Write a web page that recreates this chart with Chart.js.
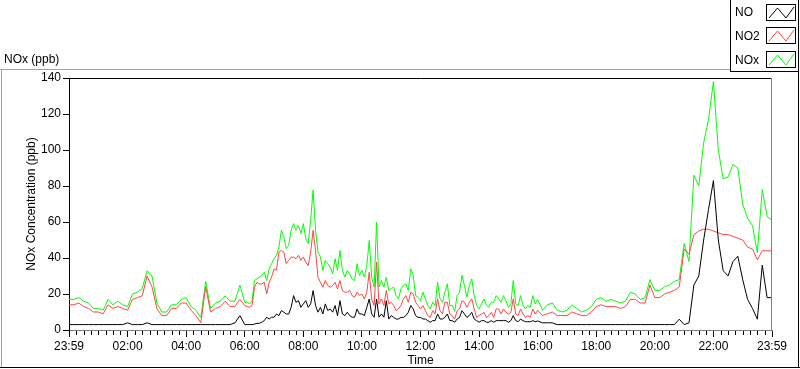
<!DOCTYPE html>
<html>
<head>
<meta charset="utf-8">
<script src="https://cdn.jsdelivr.net/npm/chart.js@4.4.1/dist/chart.umd.min.js"></script>
<style>
html,body{margin:0;padding:0;background:#fff;overflow:hidden}
#wrap{position:relative;width:800px;height:369px}
</style>
</head>
<body>
<div id="wrap"><canvas id="c" width="800" height="369"></canvas></div>
<script>
// ---- data ----
// sampling: [start minute, end minute, step minutes] since 23:59 (start of day axis)
const samplingSegments = [[0,360,10],[360,960,5],[960,1440,10]];
const xTickLabels = ["23:59","02:00","04:00","06:00","08:00","10:00","12:00","14:00","16:00","18:00","20:00","22:00","23:59"];
const seriesNames = ["NO","NO2","NOx"];
const seriesColors = ["#000000","#ff4545","#00ff00"];

const noValues = [
 // 00:00-05:50 (10 min)
 3,3,3,3,3,3,3,3,3,3,3,3,4,3,3,3,4,3,3,3,3,3,3,3,3,3,3,3,3,3,3,3,3,3,4,8,
 // 06:00-15:55 (5 min)
 3.0,3.0,3.0,3.0,3.3,3.7,3.7,4.3,5.2,7.1,
 6.1,7.1,7.1,8.9,8.0,10.8,9.9,8.9,8.9,12.6,
 19.1,15.4,16.3,12.6,14.5,16.3,12.6,14.5,21.9,13.6,
 9.9,12.6,8.9,14.5,10.8,11.7,9.9,13.6,8.0,16.3,
 8.9,8.0,9.9,8.0,7.1,7.1,11.7,8.9,8.9,8.0,
 12.6,17.2,8.9,7.1,17.2,7.1,8.9,7.1,16.3,6.1,
 8.0,7.0,6.1,6.1,7.0,7.0,8.0,9.8,13.6,11.7,
 8.0,7.0,7.0,6.1,6.1,5.2,4.3,5.2,5.2,8.9,
 6.1,6.1,7.0,8.9,5.2,5.2,4.3,6.1,7.0,10.7,
 8.9,7.0,8.0,9.8,6.1,5.2,4.3,5.2,5.2,4.3,
 4.3,5.2,4.3,5.2,5.2,5.2,5.2,5.2,4.3,5.2,
 8.0,5.2,4.6,6.1,5.2,4.6,4.6,4.6,5.2,4.6,
 // 16:00-24:00 (10 min)
 5,4,4,4,3,3,3,3,3,3,3,3,3,3,3,3,3,3,3,3,3,3,3,3,3,3,3,3,3,
 6,3,4,25,30,50,67,83,50,33,30,38,41,28,17,12,6,36,18,18
];
const no2Values = [
 14,14,15,13,12,10,10,9,14,12,13,12,11,17,18,19,30,24,12,8,8,12,12,15,15,11,8,4,24,10,12,13,16,13,13,17,
 13.6,13.0,12.6,13.6,23.8,26.5,25.6,25.6,26.5,20.0,
 26.5,29.4,34.0,33.1,43.3,44.2,43.3,36.8,38.7,40.5,
 40.5,39.6,41.5,38.7,40.5,37.7,35.8,43.3,55.4,44.2,
 29.4,26.5,23.8,27.5,24.7,23.8,24.7,26.5,22.8,27.5,
 21.9,21.0,21.0,21.9,19.1,18.2,21.0,19.1,20.0,17.2,
 21.0,32.1,17.2,13.6,37.7,14.5,17.2,13.6,21.9,14.5,
 15.4,13.6,10.7,11.7,13.6,17.3,19.1,15.4,21.0,20.1,
 15.4,13.6,11.7,13.6,10.7,8.0,7.0,10.7,8.9,17.3,
 10.7,8.9,15.4,15.4,8.9,8.0,6.1,10.7,11.7,16.3,
 15.4,12.6,15.4,17.3,11.7,7.0,8.0,8.9,9.8,7.0,
 8.0,9.8,7.0,11.7,11.7,8.9,11.7,9.8,8.9,9.8,
 17.3,8.9,8.0,11.7,8.9,7.0,8.0,7.0,11.7,8.9,
 11,8,9,10,8,8,8,10,9,8,8,10,13,
 14,13,13,13,12,13,17,17,15,15,25,18,18,20,21,22,24,45,42,53,55,56,56,55,54,53,53,52,51,50,46,45,39,44,44,44
];
const noxValues = [
 17,17,18,16,15,12,12,11,17,14,16,14,13,20,21,23,33,30,15,10,10,14,14,17,18,13,11,7,27,12,15,16,19,16,16,25,
 15.4,15.4,14.5,16.3,27.5,28.4,29.4,30.3,32.1,27.5,
 34.0,36.8,39.6,41.5,46.1,55.4,51.7,45.2,47.0,55.4,
 59.1,55.4,58.2,53.6,59.1,50.8,48.0,61.0,77.8,55.4,
 43.3,40.5,33.1,38.7,36.8,34.9,31.2,39.6,33.1,44.2,
 33.1,29.4,33.1,31.2,28.4,27.5,36.8,30.3,33.1,29.4,
 35.8,49.8,29.4,23.8,60.0,23.8,27.5,23.8,29.4,21.9,
 22.9,23.8,19.1,17.3,22.9,24.7,25.6,22.0,34.0,30.3,
 19.1,18.2,16.3,21.0,17.3,13.6,11.7,15.4,13.6,26.6,
 17.3,15.4,21.0,25.6,13.6,13.6,10.4,19.1,21.0,30.3,
 24.7,18.2,24.7,28.4,19.1,13.6,11.7,14.5,17.3,13.6,
 12.6,15.4,15.4,19.1,17.3,15.4,19.1,16.3,12.6,14.5,
 27.5,14.5,13.6,19.1,13.6,11.7,13.6,12.6,19.1,14.5,
 17,11,14,15,11,10,11,14,12,10,11,13,17,
 18,16,17,16,15,16,21,20,17,18,28,22,22,24,25,27,28,48,38,86,80,104,117,138,100,84,85,92,90,70,62,58,43,78,63,61
];
const seriesValues = [noValues, no2Values, noxValues];

// sample times (minutes) from the sampling segments
const sampleMinutes = [];
samplingSegments.forEach(([s,e,st])=>{ for(let m=s;m<e;m+=st) sampleMinutes.push(m); });
sampleMinutes.push(1440);

const FONT = '"Liberation Sans", Arial, sans-serif';

function toPoints(arr){
  return arr.map((v,i)=>({x: sampleMinutes[i]/60, y: v}));
}

const decor = {
  id:'decor',
  afterDraw(chart){
    const ctx = chart.ctx;
    const a = chart.chartArea;
    const xs = chart.scales.x;
    ctx.save();
    ctx.lineWidth = 1;
    const line=(x1,y1,x2,y2)=>{ctx.beginPath();ctx.moveTo(x1,y1);ctx.lineTo(x2,y2);ctx.stroke();};
    // outer frame
    ctx.strokeStyle = '#a0a0a0';
    line(0,69.5,730,69.5);
    line(1.5,69.5,1.5,368);
    ctx.strokeStyle = '#000';
    line(0,367.5,800,367.5);
    line(798.5,71,798.5,368);
    // legend box
    ctx.strokeRect(730.5,-1,68,72.5);
    // plot frame top & right
    ctx.strokeStyle = '#000';
    line(a.left, Math.round(a.top)+0.5, a.right, Math.round(a.top)+0.5);
    ctx.strokeStyle = '#808080';
    line(Math.round(a.right)-0.5, a.top, Math.round(a.right)-0.5, a.bottom+1);
    // minor x ticks every 15 min
    ctx.strokeStyle = '#000';
    for(let m=0;m<=24*60;m+=15){
      if(m%120===0) continue;
      const px = Math.round(xs.getPixelForValue(m/60))+0.5;
      line(px, a.bottom+1, px, a.bottom+5);
    }
    // top-left title
    ctx.fillStyle = '#000';
    ctx.font = '12px ' + FONT;
    ctx.textBaseline = 'alphabetic';
    ctx.textAlign = 'left';
    ctx.fillText('NOx (ppb)', 4, 63);
    // legend entries
    ctx.textBaseline = 'middle';
    chart.data.datasets.forEach((ds,i)=>{
      const top = 3.5 + i*23.7;
      const cy = top + 8.5;
      ctx.fillStyle = '#000';
      ctx.fillText(ds.label, 735, cy+1);
      ctx.strokeStyle = '#000';
      ctx.lineWidth = 1;
      ctx.strokeRect(766.5, Math.round(top)+0.5, 29, 16);
      ctx.strokeStyle = ds.borderColor;
      ctx.beginPath();
      const t = Math.round(top);
      ctx.moveTo(769, t+14);
      ctx.lineTo(777.5, t+4);
      ctx.lineTo(786, t+14);
      ctx.lineTo(794, t+3);
      ctx.stroke();
    });
    ctx.restore();
  }
};

new Chart(document.getElementById('c'), {
  type:'line',
  data:{
    datasets: seriesNames.map((name,i)=>({
      label:name,
      data: toPoints(seriesValues[i]),
      borderColor: seriesColors[i],
      backgroundColor: seriesColors[i],
      borderWidth:1,
      pointRadius:0,
      tension:0,
      fill:false
    }))
  },
  options:{
    responsive:false,
    animation:false,
    devicePixelRatio:1,
    layout:{padding:{left:0,top:78,right:28,bottom:0}},
    plugins:{legend:{display:false},tooltip:{enabled:false}},
    scales:{
      x:{
        type:'linear', min:0, max:24,
        afterFit(s){ s.height = 39; },
        ticks:{stepSize:2, autoSkip:false, maxRotation:0, padding:2, color:'#000',
          font:{size:12,family:FONT},
          callback:(v)=>xTickLabels[Math.round(v/2)]},
        grid:{drawOnChartArea:false, drawTicks:true, tickLength:7, color:'#000'},
        border:{color:'#808080'},
        title:{display:true, text:'Time', color:'#000', font:{size:12,family:FONT}, padding:{top:0,bottom:1}}
      },
      y:{
        min:0, max:140,
        afterFit(s){ s.width = 69; },
        ticks:{stepSize:20, padding:2, color:'#000', font:{size:12,family:FONT}},
        grid:{drawOnChartArea:false, drawTicks:true, tickLength:6, color:'#000'},
        border:{color:'#000'},
        title:{display:true, text:'NOx Concentration (ppb)', color:'#000', font:{size:12,family:FONT}, padding:{top:24,bottom:0}}
      }
    }
  },
  plugins:[decor]
});
</script>
</body>
</html>
